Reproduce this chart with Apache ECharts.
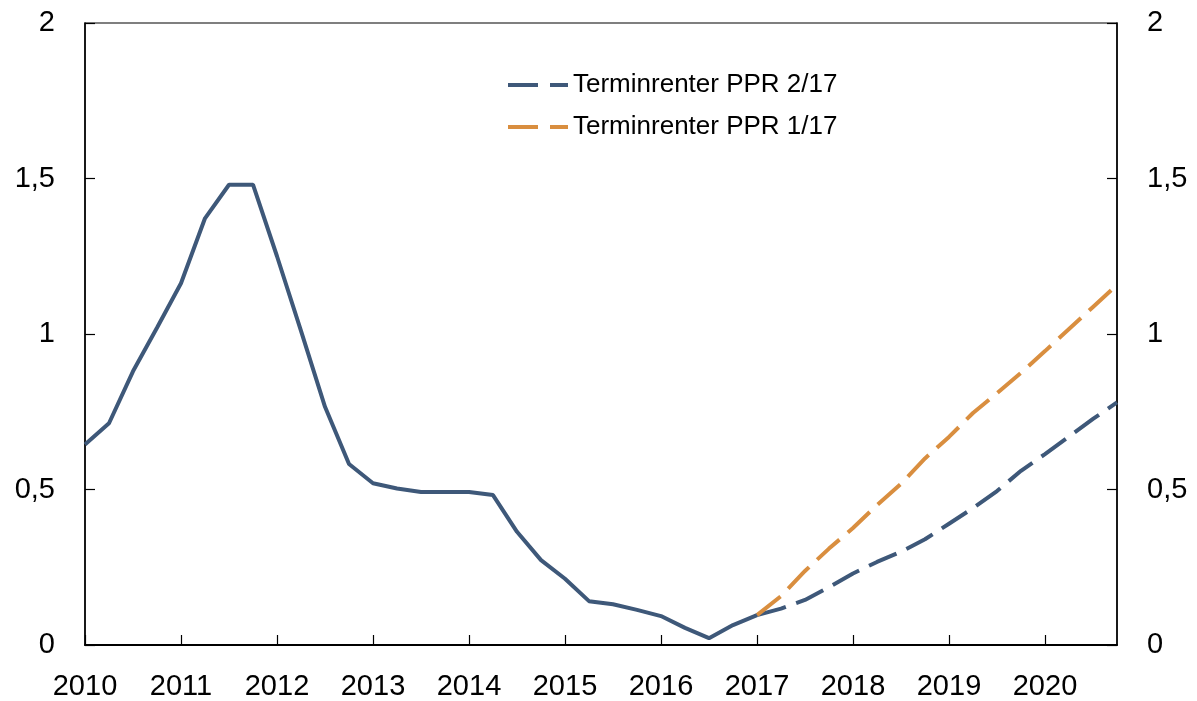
<!DOCTYPE html>
<html>
<head>
<meta charset="utf-8">
<script src="https://cdn.jsdelivr.net/npm/echarts@6/dist/echarts.min.js"></script>
<style>
  html, body { margin: 0; padding: 0; background: #fff; }
  #chart { width: 1197px; height: 701px; }
</style>
</head>
<body>
<div id="chart"></div>
<script>
  // kvartaler 2010 K1 - 2020 K4
  var quarters = [
    '2010 K1', '2010 K2', '2010 K3', '2010 K4',
    '2011 K1', '2011 K2', '2011 K3', '2011 K4',
    '2012 K1', '2012 K2', '2012 K3', '2012 K4',
    '2013 K1', '2013 K2', '2013 K3', '2013 K4',
    '2014 K1', '2014 K2', '2014 K3', '2014 K4',
    '2015 K1', '2015 K2', '2015 K3', '2015 K4',
    '2016 K1', '2016 K2', '2016 K3', '2016 K4',
    '2017 K1', '2017 K2', '2017 K3', '2017 K4',
    '2018 K1', '2018 K2', '2018 K3', '2018 K4',
    '2019 K1', '2019 K2', '2019 K3', '2019 K4',
    '2020 K1', '2020 K2', '2020 K3', '2020 K4'
  ]

  // historisk rente, 2010 K1 - 2017 K1
  var historical = [
    0.645, 0.713, 0.88, 1.02, 1.163, 1.372, 1.48, 1.48,
    1.25, 1.01, 0.766, 0.582, 0.52, 0.503, 0.492, 0.492,
    0.492, 0.482, 0.364, 0.273, 0.213, 0.141, 0.131, 0.113,
    0.093, 0.055, 0.022, 0.064, 0.096
  ]

  // terminrenter fra 2017 K1
  var forwardPpr217 = [
    0.096, 0.117, 0.145, 0.186, 0.23, 0.267, 0.30, 0.34,
    0.39, 0.44, 0.495, 0.56, 0.614, 0.67, 0.727, 0.78
  ]
  var forwardPpr117 = [
    0.096, 0.157, 0.238, 0.31, 0.376, 0.45, 0.518, 0.6,
    0.669, 0.746, 0.81, 0.875, 0.945, 1.016, 1.087, 1.158
  ]

  var yTicks = [0, 0.5, 1, 1.5, 2]

  var forecastStart = historical.length - 1
  function offset(arr) {
    var out = []
    for (var i = 0; i < forecastStart; i++) out.push(null)
    return out.concat(arr)
  }

  var blue = '#3E5879'
  var orange = '#D98E3F'
  var font = 'Arial, "Liberation Sans", sans-serif'
  // to streker som i figuren
  var dashIcon = 'path://M0,0H30V4H0Z M42,0H60V4H42Z'

  var chart = echarts.init(document.getElementById('chart'))

  var yAxisBase = {
    type: 'value',
    min: yTicks[0],
    max: yTicks[yTicks.length - 1],
    interval: 0.5,
    splitLine: { show: false },
    axisLine: { show: true, lineStyle: { color: '#000', width: 1.5 } },
    axisTick: { show: true, inside: true, length: 10, lineStyle: { color: '#000', width: 1.2 } },
    axisLabel: {
      color: '#000',
      fontSize: 29,
      fontFamily: font,
      margin: 30,
      formatter: function (v) { return String(v).replace('.', ',') }
    }
  }

  chart.setOption({
    animation: false,
    grid: {
      left: 85,
      right: 80,
      top: 23,
      bottom: 56,
      show: true,
      borderColor: '#000',
      borderWidth: 1.2
    },
    legend: {
      orient: 'vertical',
      left: 503,
      top: 67,
      itemWidth: 60,
      itemHeight: 4,
      itemGap: 16,
      data: [
        { name: 'Terminrenter PPR 2/17', icon: dashIcon },
        { name: 'Terminrenter PPR 1/17', icon: dashIcon }
      ],
      textStyle: { color: '#000', fontSize: 26, fontFamily: font }
    },
    xAxis: {
      type: 'category',
      data: quarters,
      boundaryGap: false,
      axisLine: { lineStyle: { color: '#000', width: 2 } },
      axisTick: { inside: true, length: 10, interval: 3, lineStyle: { color: '#000', width: 1.2 } },
      axisLabel: {
        interval: 3,
        color: '#000',
        fontSize: 29,
        fontFamily: font,
        margin: 27,
        formatter: function (v) { return v.slice(0, 4) }
      },
      splitLine: { show: false }
    },
    yAxis: [
      Object.assign({}, yAxisBase, { position: 'left' }),
      Object.assign({}, yAxisBase, { position: 'right' })
    ],
    series: [
      {
        name: 'Historisk',
        type: 'line',
        data: historical,
        symbol: 'none',
        lineStyle: { color: blue, width: 4 },
        itemStyle: { color: blue },
        z: 3
      },
      {
        name: 'Terminrenter PPR 2/17',
        type: 'line',
        data: offset(forwardPpr217),
        symbol: 'none',
        lineStyle: { color: blue, width: 4, type: [30, 11] },
        itemStyle: { color: blue },
        z: 2
      },
      {
        name: 'Terminrenter PPR 1/17',
        type: 'line',
        data: offset(forwardPpr117),
        symbol: 'none',
        lineStyle: { color: orange, width: 4, type: [30, 11] },
        itemStyle: { color: orange },
        z: 2
      }
    ]
  })
</script>
</body>
</html>
